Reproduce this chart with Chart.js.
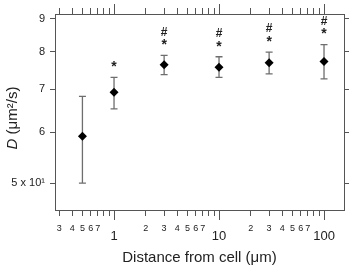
<!DOCTYPE html>
<html>
<head>
<meta charset="utf-8">
<script src="https://cdn.jsdelivr.net/npm/chart.js@4.4.0/dist/chart.umd.min.js"></script>
<style>
  html, body { margin: 0; padding: 0; background: #fff; }
  #wrap { width: 351px; height: 270px; }
</style>
</head>
<body>
<div id="wrap"><canvas id="distChart"></canvas></div>
<script>
// values
const distances = [0.5, 1, 3, 10, 30, 100];
const dMean = [59.1, 69.2, 76.4, 75.7, 76.9, 77.3];
const dLow  = [50.0, 65.2, 73.7, 73.0, 73.9, 72.6];
const dHigh = [68.2, 73.0, 79.0, 78.6, 79.9, 82.1];
const sigMarks = ['', '*', '#*', '#*', '#*', '#*'];

const xTicks = [0.3, 0.4, 0.5, 0.6, 0.7, 0.8, 0.9, 1, 2, 3, 4, 5, 6, 7, 8, 9,
                10, 20, 30, 40, 50, 60, 70, 80, 90, 100];
const xTickLabels = ['3', '4', '5', '6', '7', '', '', '1', '2', '3', '4', '5', '6', '7', '', '',
                     '10', '2', '3', '4', '5', '6', '7', '', '', '100'];
const xMajor = [1, 10, 100];
const yTicks = [50, 60, 70, 80, 90];
const yTickLabels = ['5 x 10\u00b9', '6', '7', '8', '9'];

const FONT = 'Liberation Sans, Arial, sans-serif';
const AXIS = '#555';

function setTicks(values) {
    return function(scale) {
        scale.ticks = values.map(v => ({ value: v, major: xMajor.includes(v) }));
    };
}

// error bars + significance marks
const errorBars = {
    id: 'errorBars',
    beforeDatasetsDraw(chart) {
        const { ctx, scales: { x, y } } = chart;
        ctx.save();
        ctx.strokeStyle = '#6e6e6e';
        ctx.lineWidth = 1.3;
        distances.forEach((d, i) => {
            const px = x.getPixelForValue(d);
            const top = y.getPixelForValue(dHigh[i]);
            const bot = y.getPixelForValue(dLow[i]);
            ctx.beginPath();
            ctx.moveTo(px, top); ctx.lineTo(px, bot);
            ctx.moveTo(px - 3.5, top); ctx.lineTo(px + 3.5, top);
            ctx.moveTo(px - 3.5, bot); ctx.lineTo(px + 3.5, bot);
            ctx.stroke();
        });
        ctx.restore();
    },
    afterDatasetsDraw(chart) {
        const { ctx, scales: { x, y } } = chart;
        ctx.save();
        ctx.fillStyle = '#222';
        ctx.textAlign = 'center';
        ctx.textBaseline = 'middle';
        distances.forEach((d, i) => {
            const px = x.getPixelForValue(d);
            let py = y.getPixelForValue(dHigh[i]) - 12;
            const chars = sigMarks[i].split('').reverse();
            chars.forEach(c => {
                if (c === '*') {
                    ctx.font = 'bold 14px ' + FONT;
                    ctx.fillText(c, px, py + 2);
                } else {
                    ctx.font = 'bold 12px ' + FONT;
                    ctx.fillText(c, px, py);
                }
                py -= 11;
            });
        });
        ctx.restore();
    }
};

// longer marks on decades, y title with italic D
const extras = {
    id: 'extras',
    afterDraw(chart) {
        const { ctx, chartArea, scales: { x } } = chart;
        ctx.save();
        ctx.strokeStyle = AXIS;
        ctx.lineWidth = 1;
        xMajor.forEach(v => {
            const px = Math.round(x.getPixelForValue(v)) + 0.5;
            ctx.beginPath();
            ctx.moveTo(px, chartArea.bottom + 6); ctx.lineTo(px, chartArea.bottom + 10);
            ctx.moveTo(px, chartArea.top - 6); ctx.lineTo(px, chartArea.top - 10);
            ctx.stroke();
        });

        ctx.translate(13, 118);
        ctx.rotate(-Math.PI / 2);
        ctx.fillStyle = '#222';
        ctx.textBaseline = 'middle';
        const italic = 'italic 15px ' + FONT;
        const normal = '15px ' + FONT;
        ctx.font = italic;
        const w1 = ctx.measureText('D').width;
        ctx.font = normal;
        const rest = ' (\u03bcm\u00b2/s)';
        const w2 = ctx.measureText(rest).width;
        const start = -(w1 + w2) / 2;
        ctx.font = italic;
        ctx.textAlign = 'left';
        ctx.fillText('D', start, 0);
        ctx.font = normal;
        ctx.fillText(rest, start + w1, 0);
        ctx.restore();
    }
};

const tickGrid = (len) => ({
    drawOnChartArea: false,
    drawTicks: true,
    tickLength: len,
    color: AXIS,
    tickColor: AXIS
});

new Chart(document.getElementById('distChart').getContext('2d'), {
    type: 'scatter',
    data: {
        datasets: [{
            label: 'D',
            data: distances.map((d, i) => ({ x: d, y: dMean[i] })),
            pointStyle: 'rectRot',
            pointRadius: 4.5,
            pointHoverRadius: 4.5,
            backgroundColor: '#000',
            borderColor: '#000',
            borderWidth: 0
        }]
    },
    options: {
        responsive: true,
        maintainAspectRatio: false,
        animation: false,
        events: [],
        layout: { padding: 0 },
        plugins: {
            legend: { display: false },
            tooltip: { enabled: false }
        },
        scales: {
            x: {
                type: 'logarithmic',
                position: 'bottom',
                min: 0.274,
                max: 155,
                afterBuildTicks: setTicks(xTicks),
                afterFit(scale) { scale.height = 60; },
                grid: tickGrid(6),
                border: { display: true, color: AXIS, width: 1 },
                ticks: {
                    autoSkip: false,
                    maxRotation: 0,
                    padding: 7,
                    color: '#222',
                    font: ctx => xMajor.includes(ctx.tick.value)
                        ? { family: FONT, size: 13, lineHeight: 2.0 }
                        : { family: FONT, size: 9, lineHeight: 1.2 },
                    callback: (v, i) => xTickLabels[i]
                },
                title: {
                    display: true,
                    text: 'Distance from cell (\u03bcm)',
                    color: '#222',
                    font: { family: FONT, size: 15 },
                    padding: { top: 0, bottom: 3 }
                }
            },
            x2: {
                type: 'logarithmic',
                position: 'top',
                min: 0.274,
                max: 155,
                afterBuildTicks: setTicks(xTicks),
                afterFit(scale) { scale.height = 14; },
                grid: tickGrid(6),
                border: { display: true, color: AXIS, width: 1 },
                ticks: { display: false, autoSkip: false }
            },
            y: {
                type: 'logarithmic',
                position: 'left',
                min: 45.4,
                max: 91.6,
                afterBuildTicks: setTicks(yTicks),
                afterFit(scale) { scale.width = 55; },
                grid: tickGrid(5),
                border: { display: true, color: AXIS, width: 1 },
                ticks: {
                    autoSkip: false,
                    padding: 5,
                    color: '#222',
                    font: { family: FONT, size: 11 },
                    callback: (v, i) => yTickLabels[i]
                }
            },
            y2: {
                type: 'logarithmic',
                position: 'right',
                min: 45.4,
                max: 91.6,
                afterBuildTicks: setTicks(yTicks),
                afterFit(scale) { scale.width = 7; },
                grid: tickGrid(5),
                border: { display: true, color: AXIS, width: 1 },
                ticks: { display: false, autoSkip: false }
            }
        }
    },
    plugins: [errorBars, extras]
});
</script>
</body>
</html>
